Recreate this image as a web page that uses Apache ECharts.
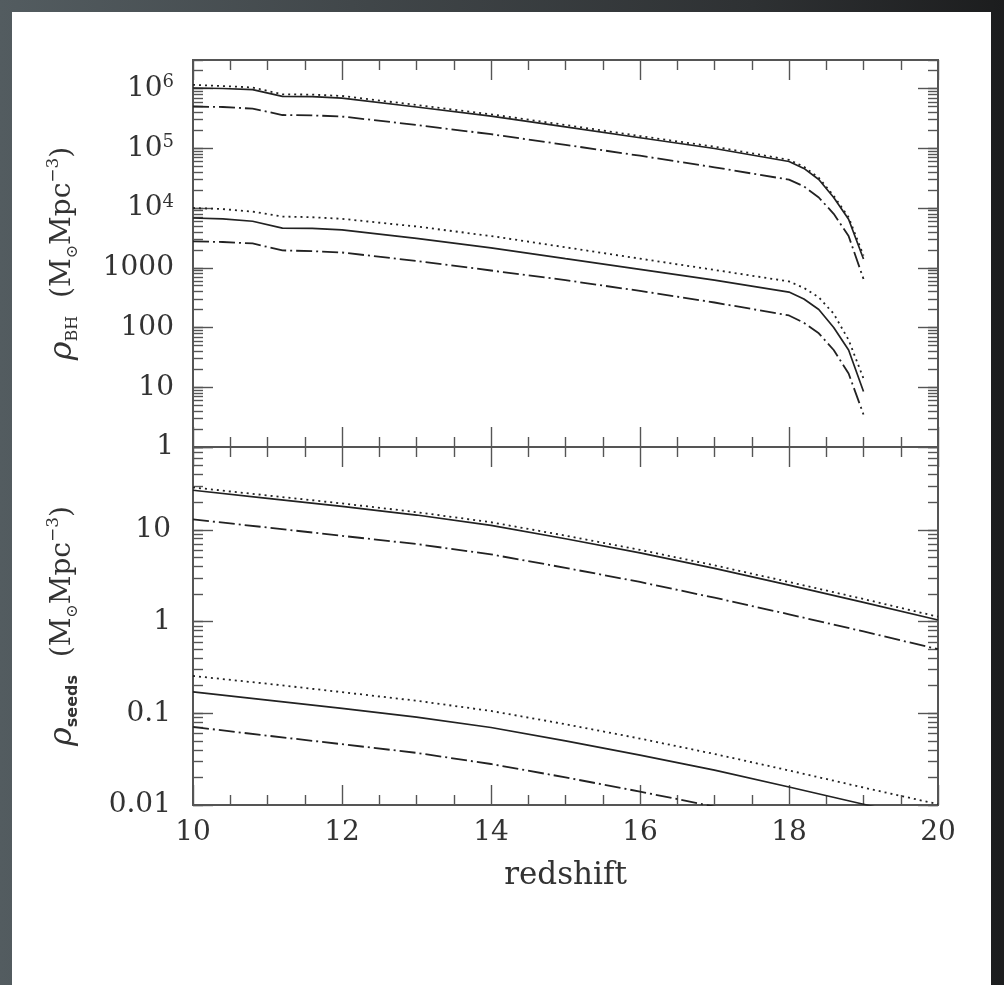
<!DOCTYPE html>
<html><head><meta charset="utf-8">
<script src="https://cdn.jsdelivr.net/npm/echarts@6/dist/echarts.min.js"></script>
<style>
html,body{margin:0;padding:0;width:1004px;height:985px;overflow:hidden;
background:linear-gradient(90deg,#535c60 0%,#41474a 35%,#2e3133 75%,#1c1d1e 100%);}
#paper{position:absolute;left:12px;top:12px;width:979px;height:980px;background:#fff;}
#chart{position:absolute;left:0;top:0;width:1004px;height:985px;}
</style></head><body><div id="paper"></div><div id="chart"></div>
<script>
// ---------- data: upper panel (rho_BH) ----------
const zUpper = [10, 10.4, 10.8, 11.2, 11.6, 12, 13, 14, 15, 16, 17, 18, 18.2, 18.4, 18.6, 18.8, 19];
const bhHighDotted  = [1.15e6, 1.1e6, 1.04e6, 8.0e5, 7.9e5, 7.5e5, 5.3e5, 3.7e5, 2.45e5, 1.6e5, 1.06e5, 6.4e4, 4.9e4, 3.2e4, 1.6e4, 7000, 1600];
const bhHighSolid   = [1.02e6, 1.0e6, 9.6e5, 7.4e5, 7.3e5, 6.9e5, 4.9e5, 3.46e5, 2.28e5, 1.5e5, 9.9e4, 6.0e4, 4.6e4, 3.0e4, 1.5e4, 6500, 1400];
const bhHighDashDot = [5.0e5, 4.9e5, 4.6e5, 3.6e5, 3.55e5, 3.4e5, 2.45e5, 1.72e5, 1.14e5, 7.5e4, 4.8e4, 2.98e4, 2.3e4, 1.5e4, 8000, 3400, 650];
const bhLowDotted   = [1.0e4, 9600, 8700, 7200, 7000, 6600, 4900, 3400, 2200, 1420, 920, 590, 460, 320, 170, 62, 14];
const bhLowSolid    = [6800, 6600, 6000, 4600, 4550, 4300, 3100, 2150, 1420, 940, 620, 392, 300, 200, 100, 42, 8.5];
const bhLowDashDot  = [2760, 2700, 2550, 1950, 1900, 1800, 1300, 900, 620, 410, 262, 159, 120, 80, 42, 17, 3.5];

// ---------- data: lower panel (rho_seeds) ----------
const zLower = [10, 11, 12, 13, 14, 15, 16, 17, 18, 19, 20];
const seedHighDotted  = [29, 23.7, 19.4, 15.6, 12.1, 8.65, 6.05, 4.1, 2.7, 1.76, 1.13];
const seedHighSolid   = [27, 22, 18, 14.5, 11.2, 8.0, 5.6, 3.8, 2.5, 1.62, 1.04];
const seedHighDashDot = [13, 10.6, 8.6, 7.0, 5.4, 3.85, 2.7, 1.82, 1.2, 0.78, 0.50];
const seedLowDotted   = [0.255, 0.21, 0.17, 0.137, 0.106, 0.076, 0.053, 0.036, 0.0238, 0.0155, 0.0102];
const seedLowSolid    = [0.171, 0.139, 0.113, 0.091, 0.070, 0.050, 0.035, 0.024, 0.0157, 0.0102, 0.0066];
const seedLowDashDot  = [0.071, 0.057, 0.046, 0.037, 0.028, 0.020, 0.014, 0.0096, 0.0063, 0.0041, 0.0027];

// ---------- axis ticks / labels ----------
const xTickLabels = [10, 12, 14, 16, 18, 20];
const bhMajor = [1, 10, 100, 1000, 1e4, 1e5, 1e6];
const seedMajor = [0.01, 0.1, 1, 10];
const bhRange = [1, 3e6];
const seedRange = [0.01, 80];

function minorTicks(lo, hi) {
  const out = [];
  for (let e = Math.floor(Math.log10(lo)); e <= Math.ceil(Math.log10(hi)); e++) {
    for (let k = 1; k <= 9; k++) {
      const v = parseFloat((k * Math.pow(10, e)).toPrecision(6));
      if (v >= lo && v <= hi) out.push(v);
    }
  }
  return out;
}
const bhMinor = minorTicks(bhRange[0], bhRange[1]);
const seedMinor = minorTicks(seedRange[0], seedRange[1]);

const FONT = 'DejaVu Serif';
const INK = '#222';
const AX = '#555';
const TXT = '#333';

function pair(xs, ys) { return xs.map((x, i) => [x, ys[i]]); }

function xAxisDef(gridIndex, position, showLabel, name) {
  return {
    type: 'value', gridIndex, position, min: 10, max: 20, interval: 2,
    axisLine: { show: true, onZero: false, lineStyle: { color: AX, width: 2 } },
    axisTick: { show: true, inside: true, length: 20, lineStyle: { color: AX, width: 1.4 } },
    minorTick: { show: true, splitNumber: 4, length: 10, lineStyle: { color: AX, width: 1.4 } },
    splitLine: { show: false },
    axisLabel: { show: showLabel, margin: 14, fontFamily: FONT, fontSize: 28, color: TXT,
      customValues: xTickLabels },
    name: name || '', nameLocation: 'middle', nameGap: 55,
    nameTextStyle: { fontFamily: FONT, fontSize: 31, color: TXT }
  };
}

function yAxisDef(gridIndex, position, range, ticks, len, labelOpt, name) {
  const d = {
    type: 'log', logBase: 10, gridIndex, position, min: range[0], max: range[1],
    axisLine: { show: true, onZero: false, lineStyle: { color: AX, width: 2 } },
    axisTick: { show: true, inside: true, length: len, customValues: ticks, lineStyle: { color: AX, width: 1.4 } },
    splitLine: { show: false },
    axisLabel: labelOpt || { show: false }
  };
  if (name) {
    d.name = name;
    d.nameLocation = 'middle';
    d.nameRotate = 90;
    d.nameGap = 112;
    d.nameTextStyle = {
      color: TXT, fontFamily: FONT,
      rich: {
        r: { fontFamily: FONT, fontStyle: 'italic', fontSize: 32, color: TXT, lineHeight: 36 },
        s: { fontFamily: FONT, fontSize: 16, color: TXT, verticalAlign: 'bottom', lineHeight: 16 },
        b: { fontFamily: 'DejaVu Sans', fontWeight: 'bold', fontSize: 16, color: TXT, verticalAlign: 'bottom', lineHeight: 16 },
        t: { fontFamily: FONT, fontSize: 28, color: TXT, lineHeight: 36 },
        p: { fontFamily: FONT, fontSize: 17, color: TXT, verticalAlign: 'top', lineHeight: 16 }
      }
    };
  }
  return d;
}

const labelRich = {
  n: { fontFamily: FONT, fontSize: 28, color: TXT, lineHeight: 30 },
  p: { fontFamily: FONT, fontSize: 18, color: TXT, verticalAlign: 'top', lineHeight: 16 }
};
const bhLabels = {
  show: true, inside: false, margin: 19, customValues: bhMajor,
  fontFamily: FONT, fontSize: 28, color: TXT,
  formatter: v => {
    if (v >= 1e4) return '{n|10}{p|' + Math.round(Math.log10(v)) + '}';
    return '{n|' + String(Math.round(v)) + '}';
  },
  rich: labelRich
};
const seedLabels = {
  show: true, inside: false, margin: 22, customValues: seedMajor,
  fontFamily: FONT, fontSize: 28, color: TXT,
  formatter: v => String(v)
};

const bhName = '{r|ρ}{s|BH}{t|  (M}{s|⊙}{t|Mpc}{p|−3}{t|)}';
const seedName = '{r|ρ}{b|seeds}{t|  (M}{s|⊙}{t|Mpc}{p|−3}{t|)}';

const DOT = [2, 4];
const DASHDOT = [16, 4, 2, 4];
function line(name, xs, ys, xi, yi, type) {
  return {
    name, type: 'line', xAxisIndex: xi, yAxisIndex: yi, data: pair(xs, ys),
    symbol: 'none', smooth: false, clip: true, animation: false,
    lineStyle: { color: INK, width: type === 'solid' ? 1.7 : 1.8, type, cap: 'butt' }
  };
}

const option = {
  backgroundColor: 'transparent',
  animation: false,
  grid: [
    { left: 193, top: 60, width: 745, height: 387, outerBoundsMode: 'none' },
    { left: 193, top: 447, width: 745, height: 358, outerBoundsMode: 'none' }
  ],
  xAxis: [
    xAxisDef(0, 'bottom', false),
    xAxisDef(0, 'top', false),
    xAxisDef(1, 'bottom', true, 'redshift'),
    xAxisDef(1, 'top', false)
  ],
  yAxis: [
    yAxisDef(0, 'left', bhRange, bhMajor, 20, bhLabels, bhName),
    yAxisDef(0, 'left', bhRange, bhMinor, 10),
    yAxisDef(0, 'right', bhRange, bhMajor, 20),
    yAxisDef(0, 'right', bhRange, bhMinor, 10),
    yAxisDef(1, 'left', seedRange, seedMajor.concat([80]), 20, seedLabels, seedName),
    yAxisDef(1, 'left', seedRange, seedMinor, 10),
    yAxisDef(1, 'right', seedRange, seedMajor, 20),
    yAxisDef(1, 'right', seedRange, seedMinor, 10)
  ],
  series: [
    line('BH high dotted', zUpper, bhHighDotted, 0, 0, DOT),
    line('BH high solid', zUpper, bhHighSolid, 0, 0, 'solid'),
    line('BH high dash-dot', zUpper, bhHighDashDot, 0, 0, DASHDOT),
    line('BH low dotted', zUpper, bhLowDotted, 0, 0, DOT),
    line('BH low solid', zUpper, bhLowSolid, 0, 0, 'solid'),
    line('BH low dash-dot', zUpper, bhLowDashDot, 0, 0, DASHDOT),
    line('seeds high dotted', zLower, seedHighDotted, 2, 4, DOT),
    line('seeds high solid', zLower, seedHighSolid, 2, 4, 'solid'),
    line('seeds high dash-dot', zLower, seedHighDashDot, 2, 4, DASHDOT),
    line('seeds low dotted', zLower, seedLowDotted, 2, 4, DOT),
    line('seeds low solid', zLower, seedLowSolid, 2, 4, 'solid'),
    line('seeds low dash-dot', zLower, seedLowDashDot, 2, 4, DASHDOT)
  ]
};
const chart = echarts.init(document.getElementById('chart'), null, { renderer: 'canvas' });
chart.setOption(option);
</script></body></html>
